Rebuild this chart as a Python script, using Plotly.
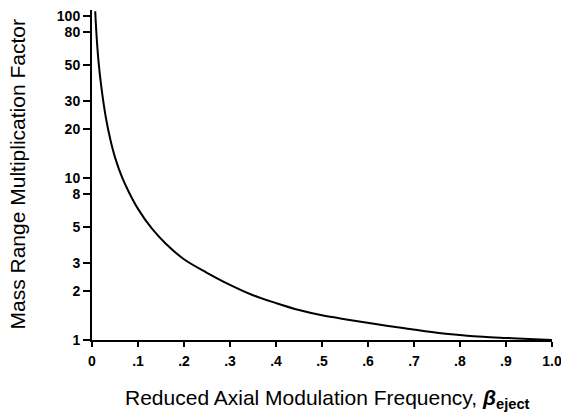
import plotly.graph_objects as go

# Reduced axial modulation frequency (beta_eject) and the mass range multiplication factor
beta_eject = [0.007, 0.008, 0.010, 0.014, 0.020, 0.030, 0.040, 0.050, 0.065,
              0.080, 0.100, 0.130, 0.160, 0.200, 0.250, 0.300, 0.350, 0.400,
              0.450, 0.500, 0.560, 0.620, 0.680, 0.750, 0.800, 0.850, 0.900,
              0.950, 1.000]
mass_factor = [107, 94, 75, 53, 37, 23.7, 17.2, 13.4, 10.15,
               8.2, 6.45, 4.88, 3.94, 3.15, 2.6, 2.19, 1.89, 1.69,
               1.53, 1.42, 1.33, 1.25, 1.18, 1.11, 1.075, 1.047, 1.03,
               1.015, 1.0]

y_tickvals = [1, 2, 3, 5, 8, 10, 20, 30, 50, 80, 100]
y_ticktext = ["1", "2", "3", "5", "8", "10", "20", "30", "50", "80", "100"]
x_tickvals = [0, 0.1, 0.2, 0.3, 0.4, 0.5, 0.6, 0.7, 0.8, 0.9, 1.0]
x_ticktext = ["0", ".1", ".2", ".3", ".4", ".5", ".6", ".7", ".8", ".9", "1.0"]

tick_font = dict(family="Liberation Sans", size=14, color="black", weight="bold")
title_font = dict(family="Liberation Sans", size=21, color="black")

fig = go.Figure()
fig.add_trace(go.Scatter(
    x=beta_eject, y=mass_factor, mode="lines",
    line=dict(color="black", width=2, shape="spline", smoothing=1.0),
    hoverinfo="skip", showlegend=False,
))

fig.update_layout(
    width=561, height=420,
    margin=dict(l=92, r=9, t=10, b=80, autoexpand=False),
    paper_bgcolor="white", plot_bgcolor="white",
    xaxis=dict(
        range=[0, 1.0001], showgrid=False, zeroline=False, automargin=False,
        showline=True, linecolor="black", linewidth=2,
        ticks="outside", ticklen=5, tickwidth=2, tickcolor="black",
        tickvals=x_tickvals, ticktext=x_ticktext, tickfont=tick_font,
        ticklabelstandoff=2, ticklabeloverflow="allow",
    ),
    yaxis=dict(
        type="log", range=[0, 2.037], showgrid=False, zeroline=False, automargin=False,
        showline=True, linecolor="black", linewidth=2,
        ticks="outside", ticklen=7, tickwidth=2, tickcolor="black",
        tickvals=y_tickvals, ticktext=y_ticktext, tickfont=tick_font,
        ticklabelstandoff=0, ticklabeloverflow="allow",
    ),
    annotations=[
        dict(text="Mass Range Multiplication Factor", xref="paper", yref="paper",
             x=-0.162, y=0.503, xanchor="center", yanchor="middle",
             textangle=-90, showarrow=False, font=title_font),
        dict(text="Reduced Axial Modulation Frequency, <b><i>β</i></b><sub><b>eject</b></sub>",
             xref="paper", yref="paper", x=0.512, y=-0.178,
             xanchor="center", yanchor="middle", showarrow=False, font=title_font),
    ],
)

fig.write_html("out.html")
